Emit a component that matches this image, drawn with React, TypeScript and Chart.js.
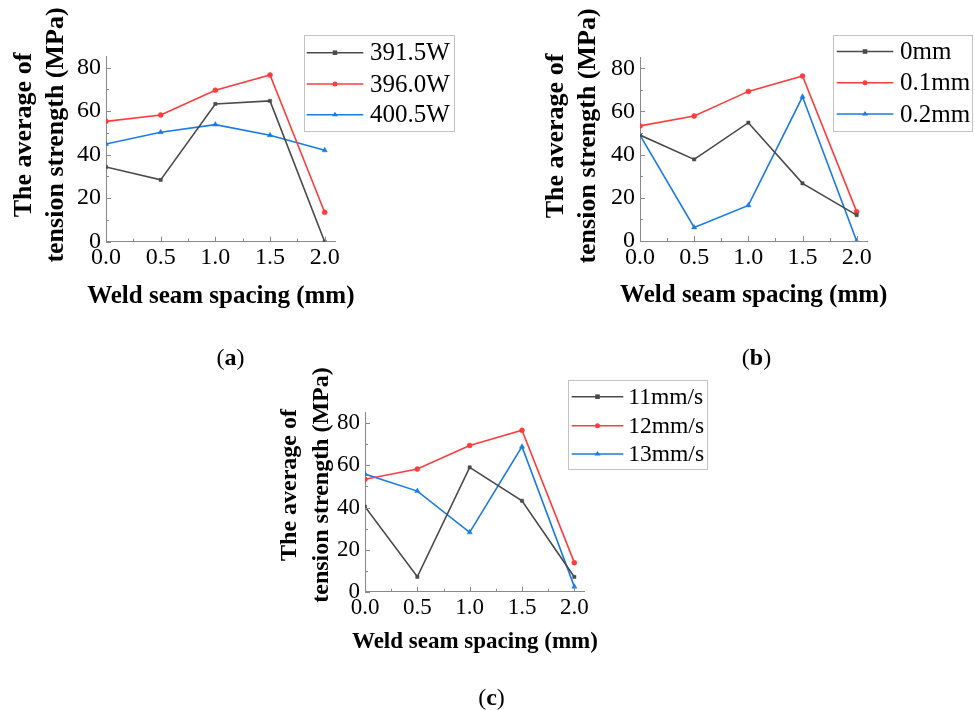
import React, { useEffect, useRef } from 'react';
import { Chart, registerables } from 'chart.js';

Chart.register(...registerables);

const SERIF = '"Liberation Serif", "Times New Roman", serif';
const AXIS = '#8a8a8a';

// ---- data ----
const spacing = [0, 0.5, 1.0, 1.5, 2.0];
const yMajorTicks = [0, 20, 40, 60, 80];
const yMinorTicks = [10, 30, 50, 70];
const xMinorTicks = [0.25, 0.75, 1.25, 1.75];

const powerLabels = ['391.5W', '396.0W', '400.5W'];
const power391 = [34.3, 28.4, 63.3, 64.7, 0];
const power396 = [55.3, 58.2, 69.6, 76.6, 13.5];
const power400 = [44.9, 50.3, 53.8, 48.9, 42.0];

const gapLabels = ['0mm', '0.1mm', '0.2mm'];
const gap0 = [49.1, 37.8, 54.8, 26.7, 12.0];
const gap01 = [53.3, 57.9, 69.3, 76.4, 13.6];
const gap02 = [49.0, 6.3, 16.5, 66.8, 0];

const speedLabels = ['11mm/s', '12mm/s', '13mm/s'];
const speed11 = [40.4, 7.1, 59.1, 43.2, 7.0];
const speed12 = [53.4, 58.3, 69.5, 76.7, 13.8];
const speed13 = [55.9, 47.8, 28.2, 68.9, 2.4];

const yTitleLines = ['The average of', 'tension strength (MPa)'];
const xTitle = 'Weld seam spacing (mm)';

// ---- styles ----
const seriesStyles = [
  { color: '#4a4a4a', pointStyle: 'rect', radius: 2.3 },
  { color: '#ff3c3c', pointStyle: 'circle', radius: 2.5 },
  { color: '#1a7be6', pointStyle: 'triangle', radius: 3 },
];

const W = 975;
const H = 710;
const YW = 70;
const XH = 40;

type PanelSpec = {
  L: number; R: number; T: number; B: number;
  xMax: number; yMax: number;
  tickFont: number; xTitleFont: number; xTitleY: number;
  yTitleFont: number; yTitleX: number[]; yTitleCY: number;
  legend: { x1: number; y1: number; x2: number; y2: number; lineX1: number; lineX2: number; textX: number; ys: number[]; font: number };
};

const panelA: PanelSpec = {
  L: 106, R: 335.6, T: 56.7, B: 241.7, xMax: 2.1, yMax: 85,
  tickFont: 24, xTitleFont: 25, xTitleY: 296.7,
  yTitleFont: 26, yTitleX: [24, 56], yTitleCY: 135,
  legend: { x1: 304, y1: 35, x2: 454, y2: 131, lineX1: 306.7, lineX2: 363.3, textX: 370, ys: [52.7, 84, 114.7], font: 25 },
};
const panelB: PanelSpec = {
  L: 640, R: 867.5, T: 57.5, B: 241, xMax: 2.1, yMax: 85,
  tickFont: 24, xTitleFont: 25, xTitleY: 296,
  yTitleFont: 26, yTitleX: [556, 588], yTitleCY: 136,
  legend: { x1: 833.3, y1: 35, x2: 972, y2: 131, lineX1: 836.7, lineX2: 893.3, textX: 900, ys: [51.5, 82.7, 114], font: 25 },
};
const panelC: PanelSpec = {
  L: 365, R: 584.8, T: 412.8, B: 591.7, xMax: 2.1, yMax: 85,
  tickFont: 23, xTitleFont: 23, xTitleY: 641.7,
  yTitleFont: 24, yTitleX: [290, 322], yTitleCY: 485,
  legend: { x1: 568.3, y1: 380, x2: 707.7, y2: 469.3, lineX1: 571.7, lineX2: 623.3, textX: 628.3, ys: [396.7, 425.7, 454], font: 23.5 },
};

function drawMarker(ctx: CanvasRenderingContext2D, style: string, x: number, y: number, r: number, color: string) {
  ctx.save();
  ctx.fillStyle = color;
  ctx.strokeStyle = color;
  ctx.beginPath();
  if (style === 'rect') {
    ctx.rect(x - r, y - r, 2 * r, 2 * r);
  } else if (style === 'triangle') {
    const h = r * 1.5;
    ctx.moveTo(x, y - h * 0.66);
    ctx.lineTo(x + r, y + h * 0.34);
    ctx.lineTo(x - r, y + h * 0.34);
    ctx.closePath();
  } else {
    ctx.arc(x, y, r, 0, Math.PI * 2);
  }
  ctx.fill();
  ctx.restore();
}

const decorPlugin = {
  id: 'decor',
  afterDraw(chart: any, _args: any, opts: any) {
    const spec: PanelSpec = opts.spec;
    if (!spec) return;
    const ctx: CanvasRenderingContext2D = chart.ctx;
    const xs = chart.scales.x;
    const ys = chart.scales.y;
    ctx.save();
    // inward ticks
    ctx.strokeStyle = AXIS;
    ctx.lineWidth = 1;
    const left = xs.left;
    const bottom = ys.bottom;
    const tick = (x1: number, y1: number, x2: number, y2: number) => {
      ctx.beginPath();
      ctx.moveTo(x1, y1);
      ctx.lineTo(x2, y2);
      ctx.stroke();
    };
    yMajorTicks.forEach((v) => { const p = Math.round(ys.getPixelForValue(v)) + 0.5; tick(left, p, left + 5, p); });
    yMinorTicks.forEach((v) => { const p = Math.round(ys.getPixelForValue(v)) + 0.5; tick(left, p, left + 3, p); });
    spacing.forEach((v) => { const p = Math.round(xs.getPixelForValue(v)) + 0.5; tick(p, bottom, p, bottom - 5); });
    xMinorTicks.forEach((v) => { const p = Math.round(xs.getPixelForValue(v)) + 0.5; tick(p, bottom, p, bottom - 3); });

    // x title
    ctx.fillStyle = '#000';
    ctx.textAlign = 'center';
    ctx.textBaseline = 'middle';
    ctx.font = `bold ${spec.xTitleFont}px ${SERIF}`;
    ctx.fillText(xTitle, (xs.left + xs.right) / 2, spec.xTitleY);

    // y title (two lines, rotated)
    ctx.font = `bold ${spec.yTitleFont}px ${SERIF}`;
    yTitleLines.forEach((line, i) => {
      ctx.save();
      ctx.translate(spec.yTitleX[i], spec.yTitleCY);
      ctx.rotate(-Math.PI / 2);
      ctx.fillText(line, 0, 0);
      ctx.restore();
    });

    // legend
    const lg = spec.legend;
    ctx.strokeStyle = '#c4c4c4';
    ctx.lineWidth = 1;
    ctx.strokeRect(Math.round(lg.x1) + 0.5, Math.round(lg.y1) + 0.5, Math.round(lg.x2 - lg.x1), Math.round(lg.y2 - lg.y1));
    ctx.font = `${lg.font}px ${SERIF}`;
    ctx.textAlign = 'left';
    ctx.textBaseline = 'middle';
    chart.data.datasets.forEach((ds: any, i: number) => {
      const y = lg.ys[i];
      ctx.strokeStyle = ds.borderColor;
      ctx.lineWidth = 1.6;
      tick(lg.lineX1, y, lg.lineX2, y);
      drawMarker(ctx, ds.pointStyle, (lg.lineX1 + lg.lineX2) / 2, y, ds.pointRadius, ds.borderColor);
      ctx.fillStyle = '#000';
      ctx.fillText(ds.label, lg.textX, y + 1);
    });
    ctx.restore();
  },
};

function Panel({ spec, labels, series }: { spec: PanelSpec; labels: string[]; series: number[][] }) {
  const ref = useRef<HTMLCanvasElement | null>(null);
  useEffect(() => {
    if (!ref.current) return;
    const tickFont = { family: SERIF, size: spec.tickFont };
    const chart = new Chart(ref.current, {
      type: 'line',
      data: {
        datasets: series.map((vals, i) => ({
          label: labels[i],
          data: spacing.map((x, j) => ({ x, y: vals[j] })),
          borderColor: seriesStyles[i].color,
          backgroundColor: seriesStyles[i].color,
          borderWidth: 1.6,
          pointStyle: seriesStyles[i].pointStyle as any,
          pointRadius: seriesStyles[i].radius,
          pointBorderWidth: 0.5,
          tension: 0,
          fill: false,
        })),
      },
      options: {
        responsive: false,
        animation: false,
        devicePixelRatio: 1,
        events: [],
        layout: {
          padding: { left: spec.L - YW, right: W - spec.R, top: spec.T, bottom: H - spec.B - XH },
        },
        plugins: {
          legend: { display: false },
          tooltip: { enabled: false },
          title: { display: false },
          decor: { spec },
        } as any,
        scales: {
          x: {
            type: 'linear',
            min: 0,
            max: spec.xMax,
            afterFit: (s: any) => { s.height = XH; },
            ticks: {
              stepSize: 0.5,
              includeBounds: false,
              autoSkip: false,
              maxRotation: 0,
              padding: 2,
              color: '#000',
              font: tickFont,
              callback: (v: any) => Number(v).toFixed(1),
            },
            grid: { color: 'rgba(0,0,0,0)', drawTicks: false },
            border: { display: true, color: AXIS, width: 1 },
          },
          y: {
            type: 'linear',
            min: 0,
            max: spec.yMax,
            afterFit: (s: any) => { s.width = YW; },
            ticks: {
              stepSize: 20,
              includeBounds: false,
              padding: 5,
              color: '#000',
              font: tickFont,
            },
            grid: { color: 'rgba(0,0,0,0)', drawTicks: false },
            border: { display: true, color: AXIS, width: 1 },
          },
        },
      } as any,
      plugins: [decorPlugin],
    });
    return () => chart.destroy();
  }, []);
  return (
    <canvas
      ref={ref}
      width={W}
      height={H}
      style={{ position: 'absolute', left: 0, top: 0, width: W, height: H }}
    />
  );
}

const captionStyle = (x: number, y: number): React.CSSProperties => ({
  position: 'absolute',
  left: x,
  top: y,
  transform: 'translate(-50%, -50%)',
  fontFamily: SERIF,
  fontSize: 24,
  color: '#000',
  whiteSpace: 'nowrap',
  lineHeight: 1,
});

export default function App() {
  return (
    <div style={{ position: 'absolute', left: 0, top: 0, width: W, height: H, background: '#fff', overflow: 'hidden' }}>
      <Panel spec={panelA} labels={powerLabels} series={[power391, power396, power400]} />
      <Panel spec={panelB} labels={gapLabels} series={[gap0, gap01, gap02]} />
      <Panel spec={panelC} labels={speedLabels} series={[speed11, speed12, speed13]} />
      <div style={captionStyle(230.5, 357)}>(<b>a</b>)</div>
      <div style={captionStyle(756.5, 357)}>(<b>b</b>)</div>
      <div style={captionStyle(491.5, 697)}>(<b>c</b>)</div>
    </div>
  );
}
